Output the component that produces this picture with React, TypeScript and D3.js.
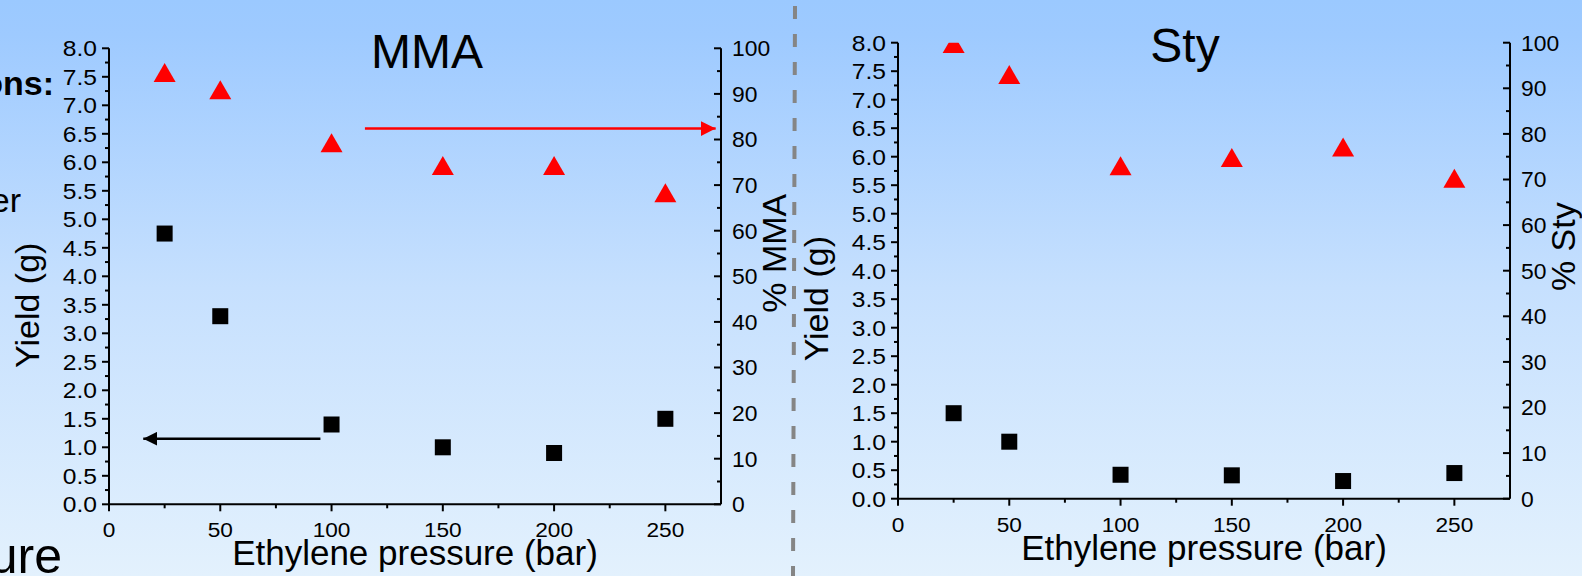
import React, { useEffect } from 'react';
import * as d3 from 'd3';

// ---- data ----
const pressures = [25, 50, 100, 150, 200, 250];
const mmaYield = [4.75, 3.3, 1.4, 1.0, 0.9, 1.5];
const mmaPercent = [94.7, 90.9, 79.3, 74.3, 74.3, 68.3];
const styYield = [1.5, 1.0, 0.42, 0.41, 0.31, 0.45];
const styPercent = [99.8, 93.0, 73.0, 74.8, 77.1, 70.3];

const xTickValues = [0, 50, 100, 150, 200, 250];
const yieldTickValues = [0, 0.5, 1, 1.5, 2, 2.5, 3, 3.5, 4, 4.5, 5, 5.5, 6, 6.5, 7, 7.5, 8];
const percentTickValues = [0, 10, 20, 30, 40, 50, 60, 70, 80, 90, 100];
const xDomain = [0, 275];
const yieldDomain = [0, 8];
const percentDomain = [0, 100];

const FONT = "'Liberation Sans', Arial, sans-serif";
const W = 612;
const H = 456;

type PanelProps = {
  id: string;
  left: number;
  top: number;
  title: string;
  titleDx: number;
  titleY: number;
  rightLabel: string;
  yieldVals: number[];
  percentVals: number[];
  yieldLabelY: number;
  rightLabelY: number;
  arrows?: boolean;
};

function Panel(p: PanelProps) {
  const x = d3.scaleLinear().domain(xDomain).range([0, W]);
  const yL = d3.scaleLinear().domain(yieldDomain).range([H, 0]);
  const yR = d3.scaleLinear().domain(percentDomain).range([H, 0]);
  const xMinor = d3.range(25, 275, 50);
  const yMinor = d3.range(0.25, 8, 0.5);
  const rMinor = d3.range(5, 100, 10);
  const tw = 22, th = 19;
  const triPath = `M0,${-th / 2}L${tw / 2},${th / 2}L${-tw / 2},${th / 2}Z`;
  const sq = 16;
  const stroke = '#000';
  return (
    <g transform={`translate(${p.left},${p.top})`}>
      <defs>
        <clipPath id={`clip-${p.id}`}>
          <rect x={0} y={0} width={W} height={H} />
        </clipPath>
        <marker id={`ah-black-${p.id}`} viewBox="0 0 10 10" refX="10" refY="5" markerWidth="14" markerHeight="14" markerUnits="userSpaceOnUse" orient="auto">
          <path d="M0,0L10,5L0,10Z" fill="#000" />
        </marker>
        <marker id={`ah-red-${p.id}`} viewBox="0 0 10 10" refX="10" refY="5" markerWidth="15" markerHeight="15" markerUnits="userSpaceOnUse" orient="auto">
          <path d="M0,0L10,5L0,10Z" fill="#ff0000" />
        </marker>
      </defs>
      {/* title */}
      <text x={W / 2 + p.titleDx} y={p.titleY} textAnchor="middle" fontFamily={FONT} fontSize={48} fill="#000">{p.title}</text>
      {/* axes lines */}
      <line x1={0} y1={0} x2={0} y2={H} stroke={stroke} strokeWidth={2} />
      <line x1={0} y1={H} x2={W} y2={H} stroke={stroke} strokeWidth={2} />
      <line x1={W} y1={0} x2={W} y2={H} stroke={stroke} strokeWidth={2} />
      {/* left ticks */}
      {yieldTickValues.map((v) => (
        <g key={`yl${v}`}>
          <line x1={-7} x2={0} y1={yL(v)} y2={yL(v)} stroke={stroke} strokeWidth={2} />
          <text x={-12} y={yL(v)} dy="0.36em" textAnchor="end" fontFamily={FONT} fontSize={22}
            transform={`translate(-12,${yL(v)}) scale(1.12,1) translate(12,${-yL(v)})`}>{d3.format('.1f')(v)}</text>
        </g>
      ))}
      {yMinor.map((v) => (
        <line key={`ylm${v}`} x1={-4} x2={0} y1={yL(v)} y2={yL(v)} stroke={stroke} strokeWidth={2} />
      ))}
      {/* right ticks (inward) */}
      {percentTickValues.map((v) => (
        <g key={`yr${v}`}>
          <line x1={W - 7} x2={W} y1={yR(v)} y2={yR(v)} stroke={stroke} strokeWidth={2} />
          <text x={W + 11} y={yR(v)} dy="0.36em" textAnchor="start" fontFamily={FONT} fontSize={22}
            transform={`translate(${W + 11},${yR(v)}) scale(1.04,1) translate(${-(W + 11)},${-yR(v)})`}>{v}</text>
        </g>
      ))}
      {rMinor.map((v) => (
        <line key={`yrm${v}`} x1={W - 4} x2={W} y1={yR(v)} y2={yR(v)} stroke={stroke} strokeWidth={2} />
      ))}
      {/* bottom ticks */}
      {xTickValues.map((v) => (
        <g key={`x${v}`}>
          <line x1={x(v)} x2={x(v)} y1={H} y2={H + 7} stroke={stroke} strokeWidth={2} />
          <text x={x(v)} y={H + 33} textAnchor="middle" fontFamily={FONT} fontSize={21}
            transform={`translate(${x(v)},0) scale(1.08,1) translate(${-x(v)},0)`}>{v}</text>
        </g>
      ))}
      {xMinor.map((v) => (
        <line key={`xm${v}`} x1={x(v)} x2={x(v)} y1={H} y2={H + 4} stroke={stroke} strokeWidth={2} />
      ))}
      {/* axis titles */}
      <text x={W / 2} y={H + 61} textAnchor="middle" fontFamily={FONT} fontSize={35}>Ethylene pressure (bar)</text>
      <text transform={`translate(-70,${p.yieldLabelY}) rotate(-90)`} textAnchor="middle" fontFamily={FONT} fontSize={34}>Yield (g)</text>
      <text transform={`translate(${W + 65},${p.rightLabelY}) rotate(-90)`} textAnchor="middle" fontFamily={FONT} fontSize={34}>{p.rightLabel}</text>
      {/* data */}
      <g clipPath={`url(#clip-${p.id})`}>
        {pressures.map((pr, i) => (
          <rect key={`s${i}`} x={x(pr) - sq / 2} y={yL(p.yieldVals[i]) - sq / 2} width={sq} height={sq} fill="#000" />
        ))}
        {pressures.map((pr, i) => (
          <path key={`t${i}`} transform={`translate(${x(pr)},${yR(p.percentVals[i])})`} d={triPath} fill="#ff0000" />
        ))}
      </g>
      {p.arrows && (
        <g>
          <line x1={x(95)} x2={x(14.5) + 2} y1={yL(1.15)} y2={yL(1.15)} stroke="#000" strokeWidth={2.5} markerEnd={`url(#ah-black-${p.id})`} />
          <line x1={x(115)} x2={x(273.5) - 2} y1={yR(82.4)} y2={yR(82.4)} stroke="#ff0000" strokeWidth={2.5} markerEnd={`url(#ah-red-${p.id})`} />
        </g>
      )}
    </g>
  );
}

export default function App() {
  useEffect(() => {
    document.body.style.margin = '0';
  }, []);
  return (
    <svg width={1582} height={576} style={{ display: 'block', position: 'absolute', left: 0, top: 0 }}>
      <defs>
        <linearGradient id="bg" x1="0" y1="0" x2="0" y2="1">
          <stop offset="0" stopColor="#9bc9ff" />
          <stop offset="0.06" stopColor="#9ecaff" />
          <stop offset="0.5" stopColor="#c6e0fe" />
          <stop offset="1" stopColor="#e3f1fd" />
        </linearGradient>
      </defs>
      <rect x={0} y={0} width={1582} height={576} fill="url(#bg)" />
      {/* fragments of slide text behind the charts */}
      <text x={54} y={95} textAnchor="end" fontFamily={FONT} fontSize={34} fontWeight="bold">ons:</text>
      <text x={21} y={212} textAnchor="end" fontFamily={FONT} fontSize={34}>er</text>
      <text x={62} y={573} textAnchor="end" fontFamily={FONT} fontSize={50}>ure</text>
      {/* divider */}
      <line x1={795} y1={6} x2={793} y2={576} stroke="#858585" strokeWidth={4} strokeDasharray="13 15" />
      <Panel id="mma" left={109} top={48.3} title="MMA" titleDx={12} titleY={20} rightLabel="% MMA"
        yieldVals={mmaYield} percentVals={mmaPercent} yieldLabelY={257} rightLabelY={205} arrows />
      <Panel id="sty" left={898} top={42.7} title="Sty" titleDx={-19} titleY={19} rightLabel="% Sty"
        yieldVals={styYield} percentVals={styPercent} yieldLabelY={256} rightLabelY={204} />
    </svg>
  );
}
